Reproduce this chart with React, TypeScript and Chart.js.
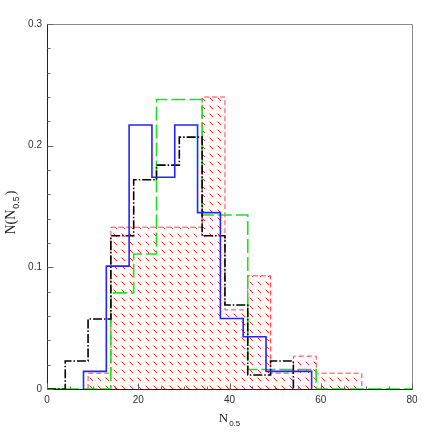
import React, { useEffect, useRef } from 'react';
import { Chart, registerables } from 'chart.js';
Chart.register(...registerables);

const binWidth = 5;
const blackStart = 4;
const blackValues = [0.023, 0.0575, 0.126, 0.172, 0.184, 0.207, 0.126, 0.069, 0.0115, 0.023];
const blueStart = 8;
const blueValues = [0.0145, 0.101, 0.217, 0.174, 0.217, 0.145, 0.058, 0.043, 0.0145, 0.0145];
const greenStart = 14;
const greenValues = [0.079, 0.111, 0.238, 0.238, 0.143, 0.143, 0.016, 0.016, 0.016];
const redStart = 9;
const redValues = [0.013, 0.133, 0.133, 0.133, 0.133, 0.24, 0.065, 0.093, 0.013, 0.027, 0.013, 0.013];
const xTicks = [0, 20, 40, 60, 80];
const yTicks = [0, 0.1, 0.2, 0.3];
const xMinorStep = 5;
const yMinorStep = 0.02;

function steps(start: number, values: number[], from?: number, to?: number) {
  const pts: { x: number; y: number }[] = [];
  if (from !== undefined) pts.push({ x: from, y: 0 });
  pts.push({ x: start, y: 0 });
  values.forEach((v, i) => pts.push({ x: start + i * binWidth, y: v }));
  const end = start + values.length * binWidth;
  pts.push({ x: end, y: 0 });
  if (to !== undefined) pts.push({ x: to, y: 0 });
  return pts;
}

function makeHatch(): CanvasPattern | string {
  const c = document.createElement('canvas');
  c.width = 8;
  c.height = 8;
  const g = c.getContext('2d');
  if (!g) return 'rgba(255,0,0,0.3)';
  g.strokeStyle = '#ff2020';
  g.lineWidth = 1;
  g.beginPath();
  g.moveTo(1.5, 1.5);
  g.lineTo(5, 5);
  g.stroke();
  const p = g.createPattern(c, 'repeat');
  return p || 'rgba(255,0,0,0.3)';
}

const framePlugin = {
  id: 'frame',
  afterDraw(chart: any) {
    const { ctx, chartArea: a, scales } = chart;
    const xs = scales.x;
    const ys = scales.y;
    ctx.save();
    ctx.lineWidth = 1;
    ctx.strokeStyle = '#8a8a8a';
    ctx.beginPath();
    ctx.moveTo(Math.round(a.left) + 0.5, Math.round(a.top) + 0.5);
    ctx.lineTo(Math.round(a.right) + 0.5, Math.round(a.top) + 0.5);
    ctx.lineTo(Math.round(a.right) + 0.5, Math.round(a.bottom) + 0.5);
    ctx.stroke();
    ctx.strokeStyle = '#222';
    ctx.beginPath();
    ctx.moveTo(Math.round(a.left) + 0.5, Math.round(a.top) + 0.5);
    ctx.lineTo(Math.round(a.left) + 0.5, Math.round(a.bottom) + 0.5);
    ctx.lineTo(Math.round(a.right) + 0.5, Math.round(a.bottom) + 0.5);
    ctx.stroke();
    ctx.strokeStyle = '#666';
    ctx.beginPath();
    const L = Math.round(a.left) + 0.5;
    const B = Math.round(a.bottom) + 0.5;
    for (let v = 0; v <= 0.3 + 1e-9; v += yMinorStep) {
      const y = Math.round(ys.getPixelForValue(v)) + 0.5;
      const major = yTicks.some((t) => Math.abs(t - v) < 1e-6);
      ctx.moveTo(L, y);
      ctx.lineTo(L + (major ? 6 : 3), y);
    }
    for (let v = 0; v <= 80 + 1e-9; v += xMinorStep) {
      const x = Math.round(xs.getPixelForValue(v)) + 0.5;
      const major = xTicks.some((t) => Math.abs(t - v) < 1e-6);
      ctx.moveTo(x, B);
      ctx.lineTo(x, B - (major ? 6 : 3));
    }
    ctx.stroke();
    ctx.fillStyle = '#222';
    ctx.textBaseline = 'alphabetic';
    const serif = '13px "Liberation Serif"';
    const sub = '8px "Liberation Sans"';
    ctx.font = serif;
    const wN = ctx.measureText('N').width;
    ctx.font = sub;
    const wS = ctx.measureText('0.5').width;
    const cx = (a.left + a.right) / 2;
    const x0 = cx - (wN + 1 + wS) / 2;
    ctx.font = serif;
    ctx.fillText('N', x0, 422);
    ctx.font = sub;
    ctx.fillText('0.5', x0 + wN + 1, 426);
    ctx.save();
    ctx.translate(15, (a.top + a.bottom) / 2 + 6);
    ctx.rotate(-Math.PI / 2);
    const serifY = '14px "Liberation Serif"';
    const subY = '9px "Liberation Sans"';
    ctx.font = serifY;
    const w1 = ctx.measureText('N(N').width;
    const w3 = ctx.measureText(')').width;
    ctx.font = subY;
    const w2 = ctx.measureText('0.5').width;
    const s = -(w1 + w2 + w3 + 2) / 2;
    ctx.font = serifY;
    ctx.fillText('N(N', s, 0);
    ctx.font = subY;
    ctx.fillText('0.5', s + w1 + 1, 4);
    ctx.font = serifY;
    ctx.fillText(')', s + w1 + w2 + 2, 0);
    ctx.restore();
    ctx.restore();
  },
};

export default function App() {
  const ref = useRef<HTMLCanvasElement | null>(null);
  useEffect(() => {
    document.body.style.margin = '0';
    const canvas = ref.current;
    if (!canvas) return;
    const hatch = makeHatch();
    const chart = new Chart(canvas, {
      type: 'line',
      data: {
        datasets: [
          {
            label: 'red',
            data: steps(redStart, redValues),
            stepped: true,
            borderColor: '#ff4040',
            borderWidth: 1,
            borderDash: [5, 3],
            backgroundColor: hatch as any,
            fill: 'origin',
            pointRadius: 0,
            order: 4,
          },
          {
            label: 'green',
            data: steps(greenStart, greenValues, 0, 80),
            stepped: true,
            borderColor: '#1fe01f',
            borderWidth: 1.6,
            borderDash: [14, 4],
            fill: false,
            pointRadius: 0,
            order: 3,
          },
          {
            label: 'black',
            data: steps(blackStart, blackValues, 0),
            stepped: true,
            borderColor: '#000000',
            borderWidth: 1.6,
            borderDash: [9, 2, 1.5, 2],
            fill: false,
            pointRadius: 0,
            order: 2,
          },
          {
            label: 'blue',
            data: steps(blueStart, blueValues),
            stepped: true,
            borderColor: '#2424ff',
            borderWidth: 1.6,
            fill: false,
            pointRadius: 0,
            order: 1,
          },
        ],
      },
      options: {
        animation: false,
        responsive: false,
        layout: { padding: { top: 24, right: 24, left: 0, bottom: 0 } },
        plugins: { legend: { display: false }, tooltip: { enabled: false } },
        scales: {
          x: {
            type: 'linear',
            min: 0,
            max: 80,
            grid: { display: false, drawTicks: false },
            border: { display: false },
            afterBuildTicks: (scale: any) => {
              scale.ticks = xTicks.map((v) => ({ value: v }));
            },
            afterFit: (scale: any) => {
              scale.height = 47;
            },
            ticks: {
              padding: 5,
              color: '#333',
              font: { family: '"Liberation Sans"', size: 10 },
              maxRotation: 0,
            },
          },
          y: {
            type: 'linear',
            min: 0,
            max: 0.3,
            grid: { display: false, drawTicks: false },
            border: { display: false },
            afterBuildTicks: (scale: any) => {
              scale.ticks = yTicks.map((v) => ({ value: v }));
            },
            afterFit: (scale: any) => {
              scale.width = 47;
            },
            ticks: {
              padding: 5,
              color: '#333',
              font: { family: '"Liberation Sans"', size: 10 },
              callback: (v: any) => String(Math.round(Number(v) * 10) / 10),
            },
          },
        },
      },
      plugins: [framePlugin],
    });
    return () => chart.destroy();
  }, []);
  return (
    <div style={{ width: 436, height: 436 }}>
      <canvas ref={ref} width={436} height={436} />
    </div>
  );
}
